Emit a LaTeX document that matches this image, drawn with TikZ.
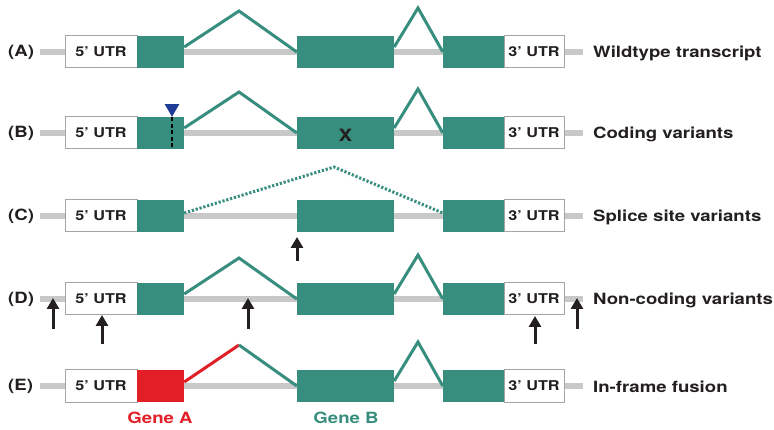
\documentclass[tikz,border=0pt]{standalone}
\usepackage{fontspec}
\setmainfont{TeX Gyre Heros}[FakeStretch=1.2]
\usetikzlibrary{arrows.meta,shapes.geometric}
\definecolor{exgreen}{RGB}{56,142,126}
\definecolor{genered}{RGB}{226,30,38}
\definecolor{linegray}{RGB}{200,200,200}
\definecolor{boxgray}{RGB}{165,165,165}
\definecolor{txt}{RGB}{35,31,32}
\definecolor{navy}{RGB}{30,60,150}
\tikzset{
  backbone/.style={draw=linegray, line width=6pt},
  utr/.style={draw=boxgray, line width=1pt, fill=white, minimum height=32pt, inner sep=0pt,
    font=\fontsize{13.5}{15}\selectfont\bfseries, text=txt},
  exon/.style={fill=#1, minimum height=32pt, inner sep=0pt},
  splice/.style={draw=exgreen, line width=3pt, line join=miter},
  dotsplice/.style={draw=exgreen, line width=3pt, dash pattern=on 2.2pt off 1.8pt},
  rowlab/.style={anchor=west, inner sep=0pt, font=\fontsize{15.5}{18}\selectfont\bfseries, text=txt},
  desc/.style={anchor=west, inner sep=0pt, font=\fontsize{15.5}{18}\selectfont\bfseries, text=txt},
  varr/.style={draw=txt, line width=3pt, -{Triangle[length=11pt,width=12pt]}},
  marktri/.style={regular polygon, regular polygon sides=3, shape border rotate=180,
    fill=navy, inner sep=0pt, minimum size=17pt},
  genelab/.style={inner sep=0pt, font=\fontsize{15.5}{18}\selectfont\bfseries}
}
\begin{document}
\begin{tikzpicture}[x=1pt,y=-1pt]
\useasboundingbox (0,0) rectangle (774,430);

\foreach \r/\c/\col in {A/52/exgreen,B/133/exgreen,C/216/exgreen,D/299/exgreen,E/386/genered} {
  \coordinate (ls\r) at (40,\c);
  \coordinate (le\r) at (583,\c);
  \draw[backbone] (ls\r) -- (le\r);
  \node[utr, minimum width=72pt] (u5\r) at (101,\c) {5’ UTR};
  \node[exon=\col, minimum width=47pt] (e1\r) at (160.5,\c) {};
  \node[exon=exgreen, minimum width=97pt] (e2\r) at (345.5,\c) {};
  \node[exon=exgreen, minimum width=61pt] (e3\r) at (473.5,\c) {};
  \node[utr, minimum width=60pt] (u3\r) at (534,\c) {3’ UTR};
  \node[rowlab] (lab\r) at (8,\c) {(\r)};
}

% first splices
\foreach \r/\c in {A/52,B/133,D/299} {
  \coordinate (pa\r) at (239,\c-41);
  \draw[splice] ([yshift=5pt]e1\r.east) -- (pa\r) -- (e2\r.west);
}
\coordinate (paE) at (239,386-41);
\draw[splice, draw=genered] ([yshift=4pt]e1E.east) -- (paE);
\draw[splice] (paE) -- (e2E.west);

% second splices
\foreach \r/\c in {A/52,B/133,D/299,E/386} {
  \coordinate (pb\r) at (418,\c-44);
  \draw[splice] ([yshift=5pt]e2\r.east) -- (pb\r) -- (e3\r.west);
}

% C skipped exon
\coordinate (pcC) at (334,167);
\draw[dotsplice] ([yshift=3pt]e1C.east) -- (pcC) -- ([yshift=3pt]e3C.west);

% descriptions
\node[desc] (dA) at (593,53) {Wildtype transcript};
\node[desc] (dB) at (593,134) {Coding variants};
\node[desc] (dC) at (593,217) {Splice site variants};
\node[desc] (dD) at (593,300) {Non-coding variants};
\node[desc] (dE) at (593,387) {In-frame fusion};

% B coding variant
\node[marktri] (tri) at (172,108.3) {};
\draw[draw=black, line width=2.6pt, dash pattern=on 4pt off 2.5pt] (tri.south) -- (tri.south |- e1B.south);
\node[inner sep=0pt, font=\fontsize{17}{18}\selectfont\bfseries, text=txt] (xB) at (345.5,135) {X};

% C arrow
\coordinate (cs) at (297,261);
\coordinate (ct) at (297,237);
\draw[varr] (cs) -- (ct);

% D arrows
\foreach \n/\x/\b/\t in {1/53/329/298, 2/102/344/315, 3/248/329/298, 4/535/344/316, 5/577/329/298} {
  \coordinate (ds\n) at (\x,\b);
  \coordinate (dt\n) at (\x,\t);
  \draw[varr] (ds\n) -- (dt\n);
}

% gene labels
\node[genelab, text=genered] (gA) at (160,418) {Gene A};
\node[genelab, text=exgreen] (gB) at (346,418) {Gene B};
\end{tikzpicture}
\end{document}
